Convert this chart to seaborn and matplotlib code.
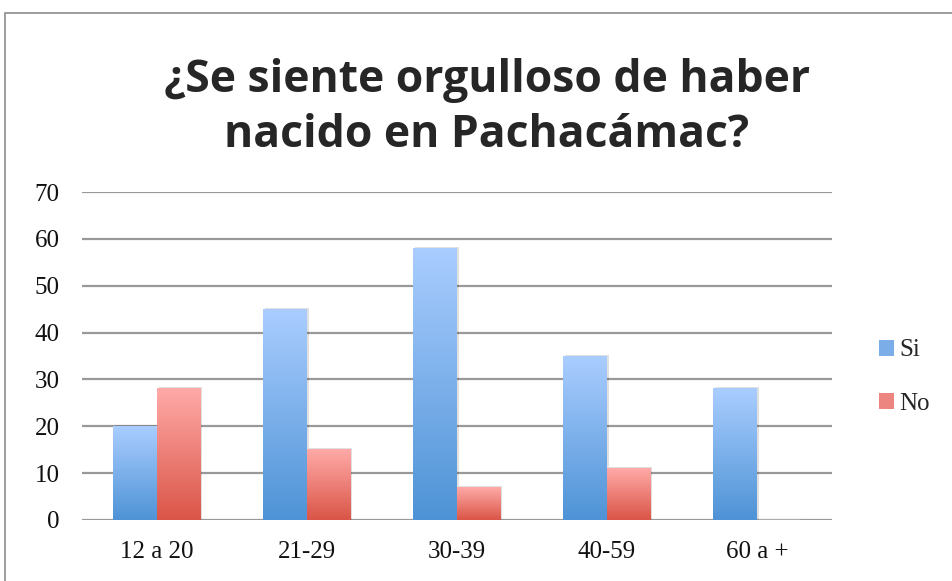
import numpy as np
import pandas as pd
import matplotlib
matplotlib.use("Agg")
import matplotlib.pyplot as plt
from matplotlib.colors import LinearSegmentedColormap
from matplotlib.patches import Rectangle
import seaborn as sns

categories = ["12 a 20", "21-29", "30-39", "40-59", "60 a +"]
si_values = [20, 45, 58, 35, 28]
no_values = [28, 15, 7, 11, 0]
series = ["Si", "No"]
title = "¿Se siente orgulloso de haber\nnacido en Pachacámac?"

df = pd.DataFrame({
    "cat": categories * 2,
    "serie": ["Si"] * len(categories) + ["No"] * len(categories),
    "val": si_values + no_values,
})

sns.set_style("white")
plt.rcParams["font.family"] = ["Liberation Serif", "DejaVu Sans"]

fig = plt.figure(figsize=(9.53, 5.81), dpi=100)
W, H = 953, 581
ax = fig.add_axes([82 / W, 1 - 520 / H, 750 / W, (520 - 192) / H])

mid_colors = {"Si": "#7BAEE8", "No": "#EC8580"}
sns.barplot(data=df, x="cat", y="val", hue="serie", hue_order=series,
            palette=mid_colors, width=0.58, ax=ax, legend=False, zorder=3)

ax.set_ylim(0, 70)
ax.set_xlim(-0.5, len(categories) - 0.5)
ax.set_yticks(range(0, 71, 10))
ax.yaxis.grid(True, color="#999999", linewidth=1.6, zorder=0)
ax.set_axisbelow(True)
for s in ax.spines.values():
    s.set_visible(False)
ax.set_xlabel("")
ax.set_ylabel("")
ax.tick_params(axis="both", length=0, labelsize=18, colors="#111111")
ax.tick_params(axis="x", pad=15)
ax.tick_params(axis="y", pad=16)

cmaps = {
    "Si": LinearSegmentedColormap.from_list("si", ["#4E93D6", "#AACDFF"]),
    "No": LinearSegmentedColormap.from_list("no", ["#DA5547", "#FFAAA8"]),
}
grad = np.linspace(0, 1, 256).reshape(-1, 1)
allp = list(ax.patches)
for i, p in enumerate(allp):
    h = p.get_height()
    if h <= 0:
        continue
    key = series[0] if i < len(categories) else series[1]
    x0, w = p.get_x(), p.get_width()
    sh = Rectangle((x0 + 0.012, 0), w, h + 0.3, facecolor="#000000", alpha=0.12,
                   edgecolor="none", zorder=2.5)
    ax.add_patch(sh)
    ax.imshow(grad, cmap=cmaps[key], origin="lower", aspect="auto",
              extent=[x0, x0 + w, 0, h], zorder=3.5)
    p.set_facecolor("none")
    p.set_edgecolor("none")
ax.set_xlim(-0.5, len(categories) - 0.5)
ax.set_ylim(0, 70)

handles = [Rectangle((0, 0), 1, 1, facecolor=mid_colors[s], edgecolor="none") for s in series]
fig.legend(handles, series, loc="center left", bbox_to_anchor=(857 / W, 1 - 377 / H),
           frameon=False, fontsize=18, handlelength=0.6, handleheight=0.6,
           handletextpad=0.2, labelspacing=1.25)

fig.text(487 / W, 1 - 108 / H, title, ha="center", va="center", fontsize=32,
         fontweight="bold", family=["Open Sans", "DejaVu Sans"], linespacing=1.3)

border = Rectangle((5 / W, -0.1), 1.1, 1 - 13 / H + 0.1, transform=fig.transFigure,
                   facecolor="none", edgecolor="#8c8c8c", linewidth=1.2)
fig.add_artist(border)

fig.savefig("out.png", dpi=100, facecolor="white")
